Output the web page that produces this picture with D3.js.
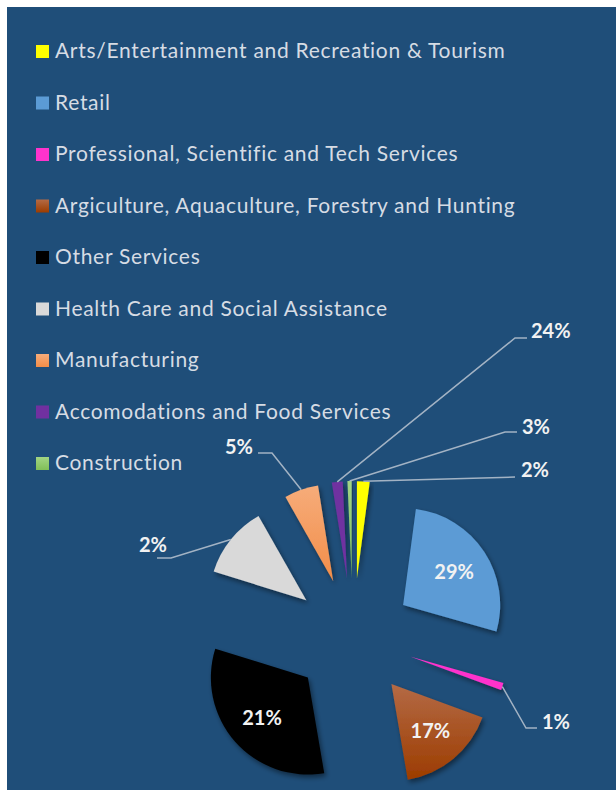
<!DOCTYPE html>
<html>
<head>
<meta charset="utf-8">
<script src="https://cdn.jsdelivr.net/npm/d3@7"></script>
<style>
  body { margin: 0; background: #fff; }
</style>
</head>
<body>
<div id="chart"></div>
<script>
// chart data
const categories = [
  "Arts/Entertainment and Recreation & Tourism",
  "Retail",
  "Professional, Scientific and Tech Services",
  "Argiculture, Aquaculture, Forestry and Hunting",
  "Other Services",
  "Health Care and Social Assistance",
  "Manufacturing",
  "Accomodations and Food Services",
  "Construction"
];
const shares = [2.1, 27.3, 1.2, 16.7, 32.5, 12.0, 5.7, 1.8, 0.7];
const labels = ["2%", "29%", "1%", "17%", "21%", "2%", "5%", "24%", "3%"];

// palette: [top, bottom] of each slice's vertical gradient
const palette = [
  ["#FFFF00", "#FFFF00"],
  ["#5B9BD5", "#5B9BD5"],
  ["#FF33CC", "#FF33CC"],
  ["#B46A45", "#9C3C00"],
  ["#000000", "#000000"],
  ["#D9D9D9", "#D9D9D9"],
  ["#F6AC7A", "#F28D48"],
  ["#7030A0", "#7030A0"],
  ["#A2D584", "#80BF57"]
];

document.addEventListener("DOMContentLoaded", () => {
  const width = 616, height = 790;

  const svg = d3.select("#chart")
    .append("svg")
    .attr("width", width)
    .attr("height", height);

  const defs = svg.append("defs");
  palette.forEach((c, i) => {
    const g = defs.append("linearGradient")
      .attr("id", "grad" + i)
      .attr("x1", 0).attr("y1", 0).attr("x2", 0).attr("y2", 1);
    g.append("stop").attr("offset", "0%").attr("stop-color", c[0]);
    g.append("stop").attr("offset", "100%").attr("stop-color", c[1]);
  });
  defs.append("filter")
    .attr("id", "shadow")
    .attr("x", "-30%").attr("y", "-30%").attr("width", "160%").attr("height", "160%")
    .append("feDropShadow")
    .attr("dx", 2).attr("dy", 3)
    .attr("stdDeviation", 2.5)
    .attr("flood-color", "#000")
    .attr("flood-opacity", 0.45);

  // background panel
  svg.append("rect")
    .attr("x", 7).attr("y", 7)
    .attr("width", width).attr("height", height)
    .attr("fill", "#1F4E79");

  // legend
  const legend = svg.append("g")
    .attr("transform", "translate(36, 58)");
  const rowStep = 51.5;
  const items = legend.selectAll("g")
    .data(categories)
    .enter()
    .append("g")
    .attr("transform", (d, i) => `translate(0, ${i * rowStep})`);
  items.append("rect")
    .attr("x", 0).attr("y", -13)
    .attr("width", 13).attr("height", 13)
    .attr("fill", (d, i) => `url(#grad${i})`);
  items.append("text")
    .attr("x", 19).attr("y", 0)
    .attr("fill", "#D6DCE4")
    .style("font-family", "Lato, 'Open Sans', sans-serif")
    .style("font-size", "21px")
    .style("letter-spacing", "0.7px")
    .text(d => d);

  // exploded pie
  const cx = 353, cy = 638;
  const radius = 97, explode = 60;

  const pie = d3.pie().sort(null).value(d => d);
  const arcs = pie(shares);
  const arc = d3.arc().innerRadius(0).outerRadius(radius);

  const dir = a => [Math.sin(a), -Math.cos(a)];
  const mid = d => (d.startAngle + d.endAngle) / 2;

  const pieG = svg.append("g")
    .attr("transform", `translate(${cx}, ${cy})`);

  pieG.selectAll("path")
    .data(arcs)
    .enter()
    .append("path")
    .attr("transform", d => {
      const [ux, uy] = dir(mid(d));
      return `translate(${ux * explode}, ${uy * explode})`;
    })
    .attr("d", arc)
    .attr("fill", (d, i) => `url(#grad${i})`)
    .attr("filter", "url(#shadow)");

  const labelStyle = sel => sel
    .attr("fill", "#F2F2F2")
    .style("font-family", "Lato, 'Open Sans', sans-serif")
    .style("font-weight", "bold")
    .style("font-size", "20px");

  // labels inside the big slices
  const inside = [1, 3, 4];
  inside.forEach(i => {
    const [ux, uy] = dir(mid(arcs[i]));
    const r = explode + 61;
    pieG.append("text")
      .attr("x", ux * r)
      .attr("y", uy * r)
      .attr("text-anchor", "middle")
      .attr("dy", "0.36em")
      .call(labelStyle)
      .text(labels[i]);
  });

  // callout labels with leader lines (page coordinates of bends and text)
  const callouts = {
    0: { pts: [[515, 477]], tx: 521, ty: 477, anchor: "start" },
    2: { pts: [[526, 728], [537, 728]], tx: 542, ty: 729, anchor: "start" },
    5: { pts: [[171, 558], [157, 558]], tx: 167, ty: 552, anchor: "end" },
    6: { pts: [[272, 453], [258, 453]], tx: 253, ty: 454, anchor: "end" },
    7: { pts: [[515, 338], [527, 338]], tx: 531, ty: 338, anchor: "start" },
    8: { pts: [[505, 432], [517, 432]], tx: 522, ty: 434, anchor: "start" }
  };

  const line = d3.line();
  Object.keys(callouts).forEach(k => {
    const i = +k, c = callouts[k];
    const [ux, uy] = dir(mid(arcs[i]));
    const start = [cx + ux * (explode + radius), cy + uy * (explode + radius)];
    svg.append("path")
      .attr("d", line([start, ...c.pts]))
      .attr("fill", "none")
      .attr("stroke", "#A3B3C4")
      .attr("stroke-width", 1.5);
    svg.append("text")
      .attr("x", c.tx)
      .attr("y", c.ty)
      .attr("text-anchor", c.anchor)
      .call(labelStyle)
      .text(labels[i]);
  });
});
</script>
</body>
</html>
